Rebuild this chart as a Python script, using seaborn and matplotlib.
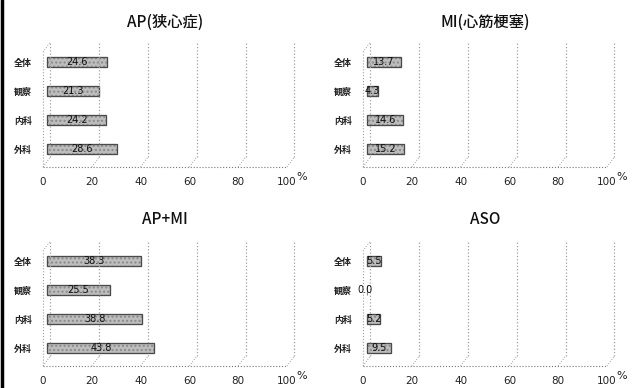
import matplotlib
matplotlib.use("Agg")
import matplotlib.pyplot as plt
import seaborn as sns
import pandas as pd
from matplotlib.lines import Line2D

categories = ["全体", "観察", "内科", "外科"]
titles = ["AP(狭心症)", "MI(心筋梗塞)", "AP+MI", "ASO"]
ap_values = [24.6, 21.3, 24.2, 28.6]
mi_values = [13.7, 4.3, 14.6, 15.2]
apmi_values = [38.3, 25.5, 38.8, 43.8]
aso_values = [5.5, 0.0, 5.2, 9.5]
x_ticks = [0, 20, 40, 60, 80, 100]

series = [ap_values, mi_values, apmi_values, aso_values]

sns.set_theme(style="white")
plt.rcParams["font.family"] = ["Noto Sans CJK JP", "DejaVu Sans"]

W, H = 640, 388
fig = plt.figure(figsize=(6.4, 3.88), dpi=100)
fig.patch.set_facecolor("white")

panels = [(43, 42), (363, 42), (43, 241), (363, 241)]
pw, ph = 244, 125
title_y = [22, 22, 219, 219]

DX = 3.0
DY = 0.345
OFF = 1.8

for i, (vals, title) in enumerate(zip(series, titles)):
    l, t = panels[i]
    ax = fig.add_axes([l / W, (H - t - ph) / H, pw / W, ph / H])
    df = pd.DataFrame({"cat": categories, "val": vals})
    sns.barplot(data=df, x="val", y="cat", orient="h", ax=ax,
                color="#bdbdbd", width=0.37, edgecolor="#8a8a8a",
                linewidth=0.8, hatch="....")
    for p in ax.patches:
        p.set_x(p.get_x() + OFF)
    # darker outline drawn on top
    for p in list(ax.patches):
        x0, y0, w, h = p.get_x(), p.get_y(), p.get_width(), p.get_height()
        if w > 0:
            ax.add_patch(plt.Rectangle((x0, y0), w, h, fill=False,
                                       edgecolor="#4a4a4a", lw=0.9))
    ax.set_xlim(0, 100)
    ybot, ytop = 3.62, -0.69
    ax.set_ylim(ybot, ytop)
    for s in ax.spines.values():
        s.set_visible(False)
    ax.set_xlabel("")
    ax.set_ylabel("")
    ax.set_xticks(x_ticks)
    ax.set_xticklabels([str(v) for v in x_ticks], fontsize=7.5,
                       family=["DejaVu Sans"], color="#222222")
    ax.tick_params(axis="x", length=0, pad=7)
    ax.tick_params(axis="y", length=0, pad=8, labelsize=6.5)
    for lab in ax.get_yticklabels():
        lab.set_color("#222222")
        lab.set_fontweight("bold")

    gc = "#a0a0a0"
    for xv in x_ticks:
        ax.add_line(Line2D([xv, xv + DX], [ybot, ybot - DY], color=gc,
                           lw=0.7, ls=":", clip_on=False))
        ax.add_line(Line2D([xv + DX, xv + DX], [ybot - DY, ytop], color=gc,
                           lw=0.9, ls=":", clip_on=False))
    ax.add_line(Line2D([0, 100], [ybot, ybot], color="#777777", lw=0.8,
                       ls=":", clip_on=False))
    ax.add_line(Line2D([0, 0], [ybot, ytop + DY], color=gc, lw=0.8,
                       ls=":", clip_on=False))
    ax.add_line(Line2D([0, DX], [ytop + DY, ytop], color=gc, lw=0.7,
                       ls=":", clip_on=False))

    for j, v in enumerate(vals):
        ax.text(OFF + v / 2 if v > 0 else 0.8, j, f"{v:.1f}", ha="center",
                va="center", fontsize=7, color="#111111",
                family=["DejaVu Sans"])

    ax.text(104, ybot + 0.35, "%", fontsize=8, ha="left", va="center",
            family=["DejaVu Sans"], color="#222222", clip_on=False)
    fig.text((l + pw / 2) / W, 1 - title_y[i] / H, title, ha="center",
             va="center", fontsize=11, color="#111111", fontweight="medium")

fig.add_artist(Line2D([1.5 / W, 1.5 / W], [0, 1], color="black", lw=2.5,
                      transform=fig.transFigure))

fig.savefig("out.png", dpi=100, facecolor="white")
